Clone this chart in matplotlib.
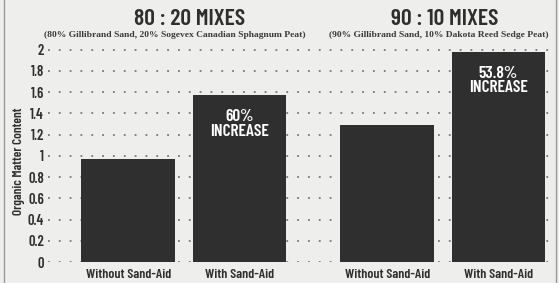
import matplotlib
matplotlib.use("Agg")
import matplotlib.pyplot as plt

# data
categories = ["Without Sand-Aid", "With Sand-Aid", "Without Sand-Aid", "With Sand-Aid"]
values = [0.97, 1.57, 1.29, 1.98]
positions = [0, 1, 2.33, 3.33]
group_titles = ["80 : 20 MIXES", "90 : 10 MIXES"]
group_notes = ["(80% Gillibrand Sand, 20% Sogevex Canadian Sphagnum Peat)",
               "(90% Gillibrand Sand, 10% Dakota Reed Sedge Peat)"]
increase_labels = {1: "60%\nINCREASE", 3: "53.8%\nINCREASE"}
yticks = [0, 0.2, 0.4, 0.6, 0.8, 1, 1.2, 1.4, 1.6, 1.8, 2]

narrow = ["Barlow Condensed", "DejaVu Sans"]
bg = "#eeeeec"
ink = "#2e2e2e"
bar_color = "#2f2f2f"

def nfont(size, weight=600):
    return dict(family=narrow, fontweight=weight, fontsize=size)

fig = plt.figure(figsize=(5.59, 2.83), dpi=100, facecolor=bg)
ax = fig.add_axes([0.086, 0.074, 0.903, 0.758], facecolor=bg)

ax.bar(positions, values, width=0.84, color=bar_color, zorder=3)
ax.set_xlim(-0.72, 3.82)
ax.set_ylim(0, 2.02)
ax.set_yticks(yticks)
ax.set_yticklabels([f"{v:g}" for v in yticks], color=ink, **nfont(10.5))
ax.set_xticks(positions)
ax.set_xticklabels(categories, color=ink, **nfont(10))
ax.tick_params(axis="y", length=0, pad=3)
ax.tick_params(axis="x", length=0, pad=5)
for s in ax.spines.values():
    s.set_visible(False)
ax.yaxis.grid(True, linestyle=(0, (1, 5)), linewidth=1.3, color="#777777", zorder=1)

ax.set_ylabel("Organic Matter Content", color=ink, **nfont(9.5))
ax.yaxis.set_label_coords(-0.046, 0.47)

for i, txt in increase_labels.items():
    ax.text(positions[i], values[i] - 0.13, txt, ha="center", va="top",
            color="white", linespacing=0.95, zorder=4, **nfont(12.5))

# group headers
for title, note, x, xn in zip(group_titles, group_notes, [0.55, 2.85], [0.42, 2.79]):
    ax.text(x, 2.19, title, ha="center", va="bottom", color=ink, **nfont(17))
    ax.text(xn, 2.105, note, ha="center", va="bottom", family="Liberation Serif",
            fontweight="bold", fontsize=6.8, color="#3a3a3a")

# page border lines
fig.add_artist(plt.Line2D([0.007, 0.007], [0, 1], color="#999999", lw=1))
fig.add_artist(plt.Line2D([0.995, 0.995], [0, 1], color="#999999", lw=1))

fig.savefig("out.png", dpi=100, facecolor=bg)
